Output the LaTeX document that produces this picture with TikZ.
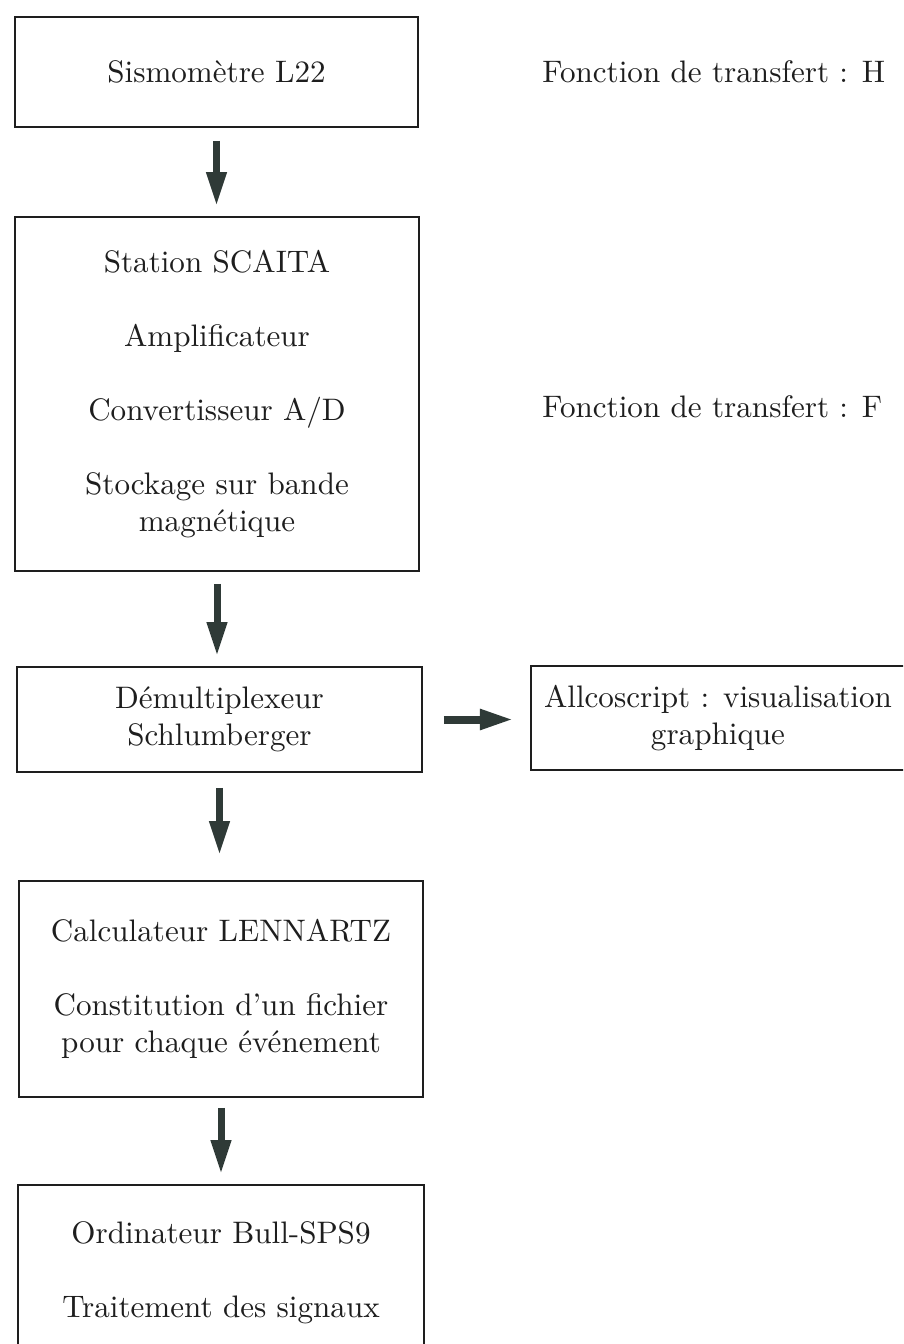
\documentclass[tikz,border=0pt]{standalone}
\usepackage{fontspec}
\setmainfont{lmroman10-regular.otf}
\usetikzlibrary{arrows.meta,calc}
\definecolor{arrowc}{RGB}{47,58,55}
\definecolor{inkc}{RGB}{30,30,30}
\begin{document}
\begin{tikzpicture}[x=0.02cm,y=-0.02cm,
  box/.style={draw=inkc,line width=0.04cm,rectangle,inner sep=0pt,align=center,text=inkc,font=\fontsize{17.7}{21}\selectfont},
  lbl/.style={inner sep=0pt,text=inkc,font=\fontsize{17.7}{21}\selectfont},
  bigarrow/.style={draw=arrowc,line width=0.14cm,-{Triangle[width=0.38cm,length=0.68cm]}}]
\useasboundingbox (0,0) rectangle (903,1344);
\clip (0,0) rectangle (903,1344);
\fill[white] (0,0) rectangle (903,1344);

\node[box,minimum width=8.06cm,minimum height=2.2cm] (b1) at (216.5,72) {Sismomètre L22};
\node[box,minimum width=8.08cm,minimum height=7.08cm] (b2) at (217,394) {Station SCAITA\\[21pt]Amplificateur\\[21pt]Convertisseur A/D\\[21pt]Stockage sur bande\\magnétique};
\node[box,minimum width=8.1cm,minimum height=2.1cm] (b3) at (219.5,719.5) {Démultiplexeur\\Schlumberger};
\node[box,minimum width=7.47cm,minimum height=2.08cm] (b4) at (718,718) {Allcoscript : visualisation\\graphique};
\node[box,minimum width=8.08cm,minimum height=4.32cm] (b5) at (221,989) {Calculateur LENNARTZ\\[21pt]Constitution d'un fichier\\pour chaque événement};
\node[box,minimum width=8.12cm,minimum height=3.5cm] (b6) at (221,1272.5) {Ordinateur Bull-SPS9\\[21pt]Traitement des signaux};

\node[lbl,anchor=west] (fh) at (542,72) {Fonction de transfert : H};
\node[lbl,anchor=west] (ff) at (542,407) {Fonction de transfert : F};

\draw[bigarrow,shorten <=0.26cm,shorten >=0.2cm] (b1.south) -- (b1.south |- b2.north);
\draw[bigarrow,shorten <=0.24cm,shorten >=0.2cm] (b2.south) -- (b2.south |- b3.north);
\draw[bigarrow,shorten <=0.3cm,shorten >=0.5cm] (b3.south) -- (b3.south |- b5.north);
\draw[bigarrow,shorten <=0.2cm,shorten >=0.2cm] (b5.south) -- (b5.south |- b6.north);
\draw[bigarrow,line width=0.16cm,shorten <=0.42cm,shorten >=0.33cm] (b3.east) -- (b3.east -| b4.west);
\end{tikzpicture}
\end{document}
